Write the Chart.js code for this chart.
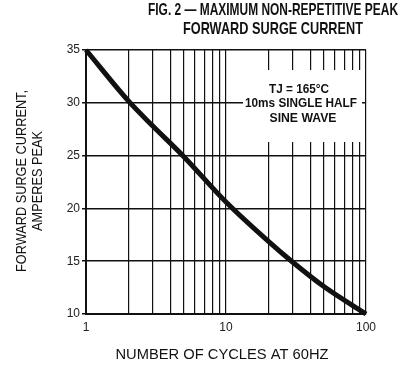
<!DOCTYPE html>
<html>
<head>
<meta charset="utf-8">
<script src="https://cdn.jsdelivr.net/npm/chart.js@4"></script>
<style>
  html, body { margin: 0; padding: 0; background: #fff; }
  #wrap { width: 408px; height: 369px; }
</style>
</head>
<body>
<div id="wrap"><canvas id="chart" width="408" height="369"></canvas></div>
<script>
// values
const cycles = [1, 2, 3, 5, 10, 20, 30, 50, 100]
const surgeAmps = [35, 30.2, 27.8, 24.9, 20.6, 16.9, 14.9, 12.6, 10.0]
const xGridTicks = [1, 2, 3, 4, 5, 6, 7, 8, 9, 10, 20, 30, 40, 50, 60, 70, 80, 90, 100]
const xLabelTicks = [1, 10, 100]
const yTicks = [10, 15, 20, 25, 30, 35]
const noteLines = ['TJ = 165°C', '10ms SINGLE HALF', 'SINE WAVE']

const ink = '#111'

// draw text squeezed to a target width (mimics the condensed face of the scan)
function fitText(ctx, text, cx, cy, width) {
  const w = ctx.measureText(text).width
  const s = Math.min(1, width / w)
  ctx.save()
  ctx.translate(cx, cy)
  ctx.scale(s, 1)
  ctx.fillText(text, 0, 0)
  ctx.restore()
}

const decorations = {
  id: 'decorations',
  beforeDatasetsDraw(chart) {
    const ctx = chart.ctx
    // white box behind the note, cuts the grid
    ctx.save()
    ctx.fillStyle = '#fff'
    ctx.fillRect(243, 70, 119, 72)
    ctx.fillStyle = ink
    ctx.font = 'bold 12.5px "Liberation Sans", Arial, sans-serif'
    ctx.textAlign = 'center'
    ctx.textBaseline = 'middle'
    fitText(ctx, noteLines[0], 299, 90, 60)
    fitText(ctx, noteLines[1], 301, 104, 112)
    fitText(ctx, noteLines[2], 303, 119, 67)
    ctx.restore()
  },
  afterDraw(chart) {
    const ctx = chart.ctx
    ctx.save()
    ctx.fillStyle = ink
    ctx.textAlign = 'center'
    ctx.textBaseline = 'middle'
    ctx.font = 'bold 17px "Liberation Sans", Arial, sans-serif'
    fitText(ctx, 'FIG. 2 — MAXIMUM NON-REPETITIVE PEAK', 273, 10, 250)
    fitText(ctx, 'FORWARD SURGE CURRENT', 273, 29, 180)

    ctx.font = '15px "Liberation Sans", Arial, sans-serif'
    fitText(ctx, 'NUMBER OF CYCLES AT 60HZ', 222, 355, 213)

    ctx.save()
    ctx.translate(22, 181)
    ctx.rotate(-Math.PI / 2)
    ctx.font = '15px "Liberation Sans", Arial, sans-serif'
    fitText(ctx, 'FORWARD SURGE CURRENT,', 0, 0, 182)
    fitText(ctx, 'AMPERES PEAK', 0, 16, 100)
    ctx.restore()
    ctx.restore()
  }
}

new Chart(document.getElementById('chart'), {
  type: 'line',
  data: {
    datasets: [{
      data: cycles.map((c, i) => ({ x: c, y: surgeAmps[i] })),
      borderColor: ink,
      borderWidth: 5,
      pointRadius: 0,
      fill: false,
      cubicInterpolationMode: 'monotone'
    }]
  },
  options: {
    responsive: false,
    animation: false,
    clip: false,
    layout: { padding: { top: 50, right: 42, left: 0, bottom: 0 } },
    plugins: { legend: { display: false }, tooltip: { enabled: false } },
    scales: {
      x: {
        type: 'logarithmic',
        min: 1,
        max: 100,
        afterBuildTicks: (scale) => { scale.ticks = xGridTicks.map(v => ({ value: v })) },
        afterFit: (scale) => { scale.height = 55 },
        border: { color: ink, width: 2 },
        grid: { color: ink, lineWidth: 1.2, tickLength: 4, drawTicks: false },
        ticks: {
          autoSkip: false,
          maxRotation: 0,
          padding: 6,
          color: '#222',
          font: { family: '"Liberation Sans", Arial, sans-serif', size: 12 },
          callback: (v) => xLabelTicks.includes(v) ? String(v) : ''
        }
      },
      y: {
        min: 10,
        max: 35,
        afterBuildTicks: (scale) => { scale.ticks = yTicks.map(v => ({ value: v })) },
        afterFit: (scale) => { scale.width = 86 },
        border: { color: ink, width: 2 },
        grid: { color: ink, lineWidth: 1.5, tickLength: 4 },
        ticks: {
          padding: 2,
          color: '#222',
          font: { family: '"Liberation Sans", Arial, sans-serif', size: 12 }
        }
      }
    }
  },
  plugins: [decorations]
})
</script>
</body>
</html>
